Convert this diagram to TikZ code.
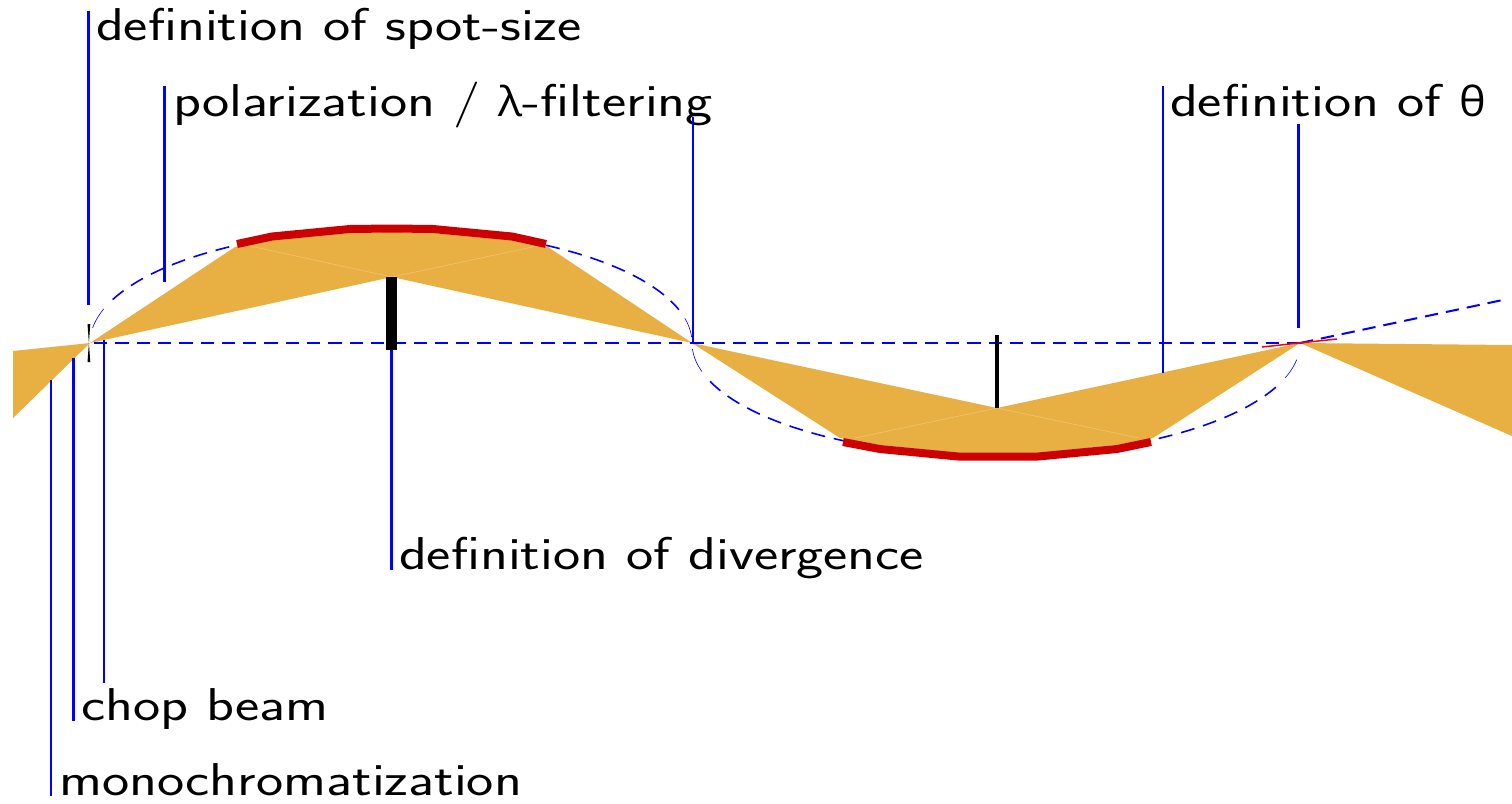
\documentclass[tikz,border=0pt]{standalone}
\usepackage{fontspec}
\newfontfamily\labfont[FakeStretch=1.255]{Latin Modern Sans}
\newfontfamily\gkfont[FakeStretch=1.1]{Open Sans}
\definecolor{gold}{HTML}{E8B043}
\definecolor{seam}{HTML}{F0C878}
\definecolor{mirror}{HTML}{CC0000}
\tikzset{
  x=1pt,y=-1pt,
  lab/.style={anchor=base west,inner sep=0pt,outer sep=0pt,font=\fontsize{46}{46}\labfont},
  bl/.style={draw=blue,line width=2.2pt},
  dsh/.style={draw=blue,line width=2pt,dash pattern=on 13.3pt off 8pt},
  ell/.style={draw=blue,line width=1.6pt,dash pattern=on 14pt off 9pt},
  thinell/.style={draw=blue,line width=0.6pt},
  goldfill/.style={fill=gold,draw=none},
  mirrorline/.style={draw=mirror,line width=8pt,line join=round},
  seamline/.style={draw=seam,line width=0.5pt},
}
\newcommand{\upperarc}[3]{plot[domain=#2:#3,samples=40,smooth] ({391+#1+301*cos(\x)},{343-114*sin(\x)})}
\newcommand{\lowerarc}[2]{plot[domain=#1:#2,samples=40,smooth] ({996+304*cos(\x)},{343-113*sin(\x)})}
\begin{document}
\begin{tikzpicture}
\useasboundingbox (0,0) rectangle (1512,803);
% gold beams
\fill[goldfill] (13,351) -- (90,343) -- (13,418) -- cycle;
\fill[goldfill] (90,343) -- (235,247) -- (272,238) -- (350,233) -- (392,232) -- (433,233) -- (512,238) -- (548,247) -- (692,343) -- (392,277) -- cycle;
\fill[goldfill] (692,343) -- (840,438) -- (880,445) -- (958,453) -- (1038,453) -- (1117,445) -- (1153,438) -- (1300,343) -- (997,408) -- cycle;
\fill[goldfill] (1300,343) -- (1512,345) -- (1512,436) -- cycle;
\draw[seamline] (250,246) -- (392,277) -- (537,246);
\draw[seamline] (855,438) -- (997,408) -- (1139,438);
% coordinates
\coordinate (f1) at (90,343);
\coordinate (f2) at (692,343);
\coordinate (f3) at (1300,343);
\coordinate (out) at (1505,299.5);
% dashed axis and ellipses
\draw[dsh] (94,343) -- (f3);
\draw[dsh] (f3) -- (out);
\draw[ell] \upperarc{0}{157.6}{121};
\draw[thinell] \upperarc{0}{172.4}{162.5};
\draw[ell] \upperarc{0}{59}{17};
\draw[thinell] \upperarc{0}{3}{12.5};
\draw[ell] \lowerarc{199.8}{240};
\draw[thinell] \lowerarc{183}{194.6};
\draw[ell] \lowerarc{337}{300.4};
\draw[thinell] \lowerarc{351.5}{342};
% mirrors
\draw[mirrorline] (237,244) -- (272,236.5) -- (350,229) -- (392,228.5) -- (433,229) -- (512,236.5) -- (546,244);
\draw[mirrorline] (843,442) -- (880,449) -- (958,456.5) -- (1038,456.5) -- (1117,449) -- (1151,442);
\draw[red,line width=1.5pt] (1262,347) -- (1337,339);
% black apertures
\fill[black] (386,277) rectangle (397,350);
\fill[black] (995,335) rectangle (998.7,408);
\fill[black] (87.5,324) -- (90.3,324) -- (88.9,343) -- cycle;
\fill[black] (87.5,362) -- (90.3,362) -- (88.9,343) -- cycle;
% labels
\node[lab] (spot) at (96,40.5) {definition of spot-size};
\node[lab] (pol) at (173,116.5) {polarization / {\gkfont\fontsize{41}{41}\selectfont λ}-filtering};
\node[lab] (theta) at (1170,116.5) {definition of {\gkfont\fontsize{41}{41}\selectfont θ}};
\node[lab] (div) at (399,569.5) {definition of divergence};
\node[lab] (chop) at (81,720.5) {chop beam};
\node[lab] (mono) at (59,795.5) {monochromatization};
% connectors
\draw[bl] (88.5,11) -- (88.5,305);
\draw[bl] (164.5,86) -- (164.5,282);
\draw[bl] (693,117) -- (693,343);
\draw[bl] (1163,86) -- (1163,373);
\draw[bl] (1298.5,124) -- (1298.5,328);
\draw[bl] (391.5,350) -- (391.5,570);
\draw[bl] (104,340) -- (104,683);
\draw[bl] (73.5,358) -- (73.5,721);
\draw[bl] (51,380) -- (51,796);
\end{tikzpicture}
\end{document}
